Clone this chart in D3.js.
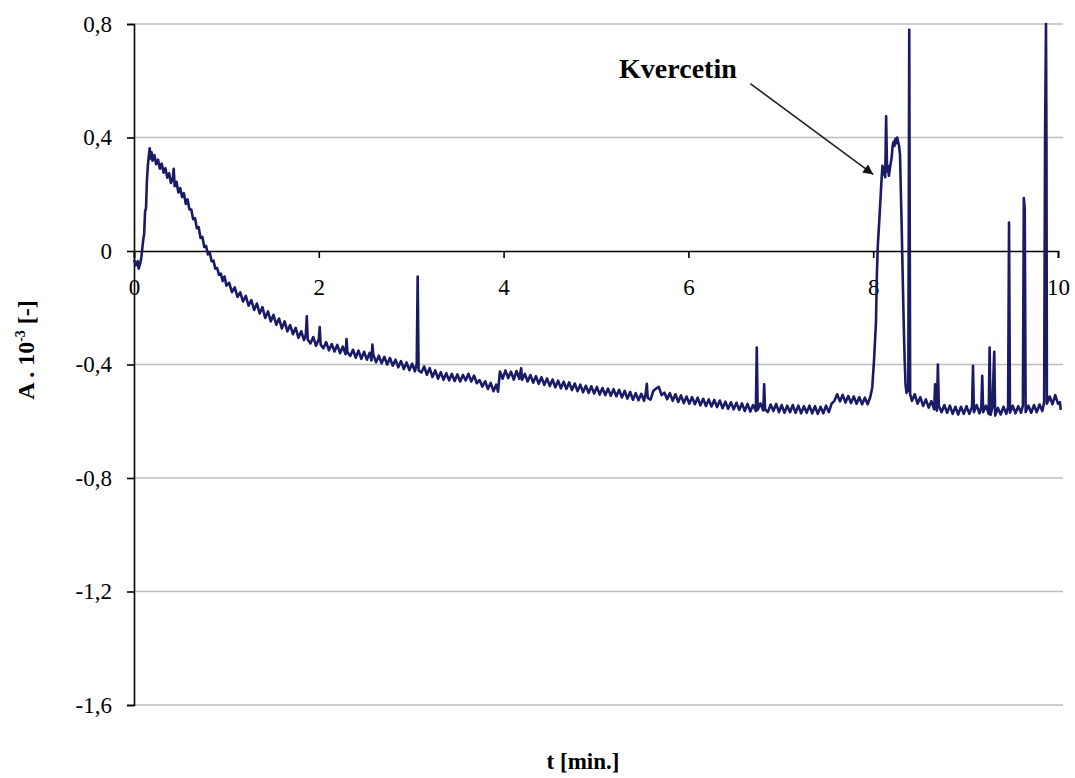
<!DOCTYPE html>
<html>
<head>
<meta charset="utf-8">
<script src="https://cdn.jsdelivr.net/npm/d3@7"></script>
<style>
    html, body { margin: 0; padding: 0; background: #ffffff; }
    svg { display: block; }
    text { font-family: "Liberation Serif", "Times New Roman", serif; fill: #000; }
</style>
</head>
<body>
<svg id="chart" width="1075" height="778"></svg>
<script>
// tick values and labels
var xTicks = [0, 2, 4, 6, 8, 10];
var xTickLabels = ["0", "2", "4", "6", "8", "10"];
var yTicks = [0.8, 0.4, 0, -0.4, -0.8, -1.2, -1.6];
var yTickLabels = ["0,8", "0,4", "0", "-0,4", "-0,8", "-1,2", "-1,6"];

// chromatogram: time [min], absorbance A.10^-3
var time = [
    0.00,0.02,0.04,0.05,0.07,0.08,0.09,0.10,0.11,0.12,0.13,0.14,0.15,0.16,0.17,0.18,0.19,0.20,0.22,0.24,
    0.26,0.28,0.30,0.32,0.34,0.36,0.38,0.40,0.42,0.43,0.44,0.46,0.48,0.50,0.52,0.54,0.56,0.58,0.60,0.62,
    0.64,0.66,0.68,0.70,0.72,0.74,0.76,0.78,0.80,0.82,0.84,0.86,0.88,0.90,0.92,0.94,0.96,0.98,1.00,1.03,
    1.06,1.09,1.12,1.15,1.18,1.21,1.24,1.27,1.30,1.33,1.36,1.39,1.42,1.45,1.48,1.51,1.54,1.57,1.60,1.63,
    1.66,1.69,1.72,1.75,1.78,1.81,1.84,1.86,1.87,1.88,1.91,1.94,1.97,2.00,2.01,2.02,2.05,2.08,2.11,2.14,
    2.17,2.20,2.23,2.26,2.29,2.30,2.31,2.34,2.37,2.40,2.43,2.46,2.49,2.52,2.55,2.57,2.58,2.59,2.62,2.65,
    2.68,2.71,2.74,2.77,2.80,2.83,2.86,2.89,2.92,2.95,2.98,3.01,3.04,3.06,3.07,3.08,3.11,3.14,3.17,3.20,
    3.23,3.26,3.29,3.32,3.35,3.38,3.41,3.44,3.47,3.50,3.53,3.56,3.59,3.62,3.65,3.68,3.71,3.74,3.77,3.80,
    3.83,3.86,3.89,3.92,3.94,3.96,3.99,4.02,4.05,4.08,4.11,4.14,4.17,4.19,4.20,4.23,4.26,4.29,4.32,4.35,
    4.38,4.41,4.44,4.47,4.50,4.53,4.56,4.59,4.62,4.65,4.68,4.71,4.74,4.77,4.80,4.83,4.86,4.89,4.92,4.95,
    4.98,5.01,5.04,5.07,5.10,5.13,5.16,5.19,5.22,5.25,5.28,5.31,5.34,5.37,5.40,5.43,5.46,5.49,5.52,5.54,
    5.55,5.56,5.59,5.62,5.65,5.68,5.71,5.74,5.77,5.80,5.83,5.86,5.89,5.92,5.95,5.98,6.01,6.04,6.07,6.10,
    6.13,6.16,6.19,6.22,6.25,6.28,6.31,6.34,6.37,6.40,6.43,6.46,6.49,6.52,6.55,6.58,6.61,6.64,6.67,6.70,
    6.73,6.74,6.75,6.78,6.81,6.82,6.83,6.86,6.89,6.92,6.95,6.98,7.01,7.04,7.07,7.10,7.13,7.16,7.19,7.22,
    7.25,7.28,7.31,7.34,7.37,7.40,7.43,7.46,7.49,7.52,7.55,7.58,7.61,7.64,7.67,7.70,7.73,7.76,7.79,7.82,
    7.85,7.88,7.91,7.94,7.97,7.99,8.01,8.03,8.04,8.05,8.07,8.09,8.10,8.11,8.12,8.13,8.14,8.15,8.16,8.17,
    8.18,8.20,8.21,8.22,8.23,8.24,8.25,8.26,8.28,8.29,8.30,8.31,8.32,8.33,8.34,8.35,8.36,8.38,8.39,8.40,
    8.42,8.45,8.48,8.51,8.54,8.57,8.60,8.63,8.66,8.67,8.68,8.69,8.70,8.71,8.74,8.77,8.80,8.83,8.86,8.89,
    8.92,8.95,8.98,9.01,9.04,9.07,9.08,9.09,9.12,9.15,9.17,9.18,9.19,9.22,9.25,9.26,9.27,9.29,9.31,9.32,
    9.35,9.38,9.41,9.44,9.46,9.47,9.48,9.51,9.54,9.57,9.60,9.62,9.63,9.64,9.65,9.68,9.71,9.74,9.77,9.80,
    9.83,9.85,9.86,9.87,9.875,9.88,9.91,9.94,9.97,10.00,10.02,10.03
];
var absorbance = [
    -0.030,-0.050,-0.036,-0.062,-0.040,-0.020,0.010,0.040,0.060,0.140,0.150,0.250,0.300,0.335,0.362,0.326,0.348,0.318,0.338,0.306,
    0.322,0.290,0.308,0.276,0.292,0.258,0.274,0.240,0.256,0.290,0.228,0.244,0.206,0.222,0.190,0.204,0.166,0.182,0.146,0.146,
    0.112,0.116,0.080,0.084,0.046,0.050,0.014,0.018,-0.012,-0.006,-0.036,-0.034,-0.062,-0.060,-0.084,-0.080,-0.106,-0.090,-0.122,-0.112,
    -0.145,-0.128,-0.162,-0.146,-0.178,-0.158,-0.193,-0.173,-0.208,-0.185,-0.220,-0.198,-0.236,-0.213,-0.248,-0.225,-0.260,-0.238,-0.273,-0.248,
    -0.283,-0.261,-0.293,-0.271,-0.306,-0.283,-0.314,-0.294,-0.230,-0.312,-0.326,-0.303,-0.334,-0.311,-0.268,-0.330,-0.343,-0.321,-0.350,-0.328,
    -0.354,-0.331,-0.360,-0.337,-0.364,-0.310,-0.357,-0.370,-0.348,-0.376,-0.351,-0.380,-0.355,-0.383,-0.359,-0.386,-0.330,-0.365,-0.392,-0.369,
    -0.396,-0.373,-0.400,-0.377,-0.404,-0.383,-0.410,-0.388,-0.416,-0.393,-0.420,-0.397,-0.424,-0.398,-0.090,-0.420,-0.428,-0.407,-0.436,-0.413,
    -0.444,-0.421,-0.450,-0.427,-0.454,-0.431,-0.456,-0.433,-0.458,-0.435,-0.460,-0.437,-0.456,-0.433,-0.460,-0.439,-0.466,-0.455,-0.478,-0.459,
    -0.486,-0.465,-0.494,-0.471,-0.496,-0.425,-0.450,-0.421,-0.448,-0.425,-0.453,-0.423,-0.450,-0.413,-0.454,-0.433,-0.460,-0.437,-0.464,-0.441,
    -0.468,-0.445,-0.472,-0.449,-0.476,-0.453,-0.480,-0.457,-0.484,-0.461,-0.486,-0.463,-0.490,-0.467,-0.494,-0.471,-0.498,-0.475,-0.500,-0.477,
    -0.502,-0.479,-0.506,-0.483,-0.508,-0.485,-0.510,-0.487,-0.512,-0.489,-0.516,-0.493,-0.520,-0.497,-0.524,-0.501,-0.526,-0.503,-0.528,-0.498,
    -0.468,-0.518,-0.524,-0.493,-0.485,-0.479,-0.508,-0.499,-0.522,-0.501,-0.528,-0.505,-0.532,-0.509,-0.536,-0.513,-0.538,-0.515,-0.540,-0.517,
    -0.544,-0.521,-0.546,-0.523,-0.548,-0.525,-0.550,-0.527,-0.554,-0.531,-0.556,-0.533,-0.558,-0.535,-0.560,-0.537,-0.564,-0.539,-0.566,-0.543,
    -0.564,-0.340,-0.560,-0.537,-0.562,-0.470,-0.558,-0.568,-0.541,-0.564,-0.539,-0.568,-0.543,-0.570,-0.545,-0.568,-0.543,-0.570,-0.545,-0.572,
    -0.547,-0.570,-0.545,-0.572,-0.547,-0.574,-0.549,-0.572,-0.545,-0.568,-0.538,-0.528,-0.505,-0.530,-0.507,-0.534,-0.511,-0.536,-0.513,-0.538,
    -0.515,-0.540,-0.517,-0.540,-0.513,-0.480,-0.380,-0.250,-0.080,0.020,0.130,0.250,0.300,0.270,0.295,0.260,0.475,0.280,0.300,0.265,
    0.290,0.330,0.370,0.385,0.370,0.395,0.380,0.400,0.370,0.340,0.200,0.060,-0.100,-0.250,-0.380,-0.470,-0.500,-0.490,0.780,-0.505,
    -0.528,-0.505,-0.538,-0.515,-0.546,-0.523,-0.552,-0.529,-0.558,-0.470,-0.541,-0.563,-0.400,-0.545,-0.568,-0.543,-0.570,-0.545,-0.574,-0.549,
    -0.576,-0.549,-0.574,-0.547,-0.574,-0.549,-0.405,-0.568,-0.543,-0.572,-0.549,-0.440,-0.568,-0.545,-0.574,-0.340,-0.578,-0.551,-0.355,-0.580,
    -0.553,-0.576,-0.549,-0.574,-0.549,0.100,-0.570,-0.545,-0.572,-0.547,-0.570,-0.545,0.187,0.150,-0.568,-0.545,-0.570,-0.543,-0.568,-0.541,
    -0.564,-0.533,0.400,0.800,0.400,-0.538,-0.513,-0.540,-0.508,-0.538,-0.533,-0.560
];

// arrow pointing at the quercetin peak (data units)
var labelText = ["Kvercetin"];
var labelPos = [5.25, 0.61];
var arrowFrom = [6.67, 0.59];
var arrowTo = [8.0, 0.27];

var svg = d3.select("#chart");
var plotLeft = 134, plotRight = 1058, plotTop = 24, plotBottom = 705;

var x = d3.scaleLinear().domain([0, 10]).range([plotLeft, plotRight]);
var y = d3.scaleLinear().domain([-1.6, 0.8]).range([plotBottom, plotTop]);

// horizontal gridlines
svg.append("g")
    .selectAll("line")
    .data(yTicks.filter(function(d) { return d !== 0; }))
    .enter()
    .append("line")
    .attr("x1", plotLeft)
    .attr("x2", plotRight + 5)
    .attr("y1", function(d) { return y(d); })
    .attr("y2", function(d) { return y(d); })
    .attr("stroke", "#bcbcbc")
    .attr("stroke-width", 1.5);

// y axis
var yAxis = svg.append("g")
    .attr("transform", "translate(" + plotLeft + ",0)")
    .call(d3.axisLeft(y)
        .tickValues(yTicks)
        .tickFormat(function(d, i) { return yTickLabels[i]; })
        .tickSizeOuter(0)
        .tickSize(7)
        .tickPadding(15));

// x axis sits on A = 0
var xAxis = svg.append("g")
    .attr("transform", "translate(0," + y(0) + ")")
    .call(d3.axisBottom(x)
        .tickValues(xTicks)
        .tickFormat(function(d, i) { return xTickLabels[i]; })
        .tickSizeOuter(0)
        .tickSize(7)
        .tickPadding(21));

[yAxis, xAxis].forEach(function(g) {
    g.select(".domain").attr("stroke", "#000").attr("stroke-width", 1.6);
    g.selectAll(".tick line").attr("stroke", "#000").attr("stroke-width", 1.6);
    g.selectAll(".tick text")
        .style("font-family", "'Liberation Serif', serif")
        .style("font-size", "23px")
        .attr("fill", "#2a2a2a");
});

// the trace
var points = time.map(function(t, i) { return [t, absorbance[i]]; });
var line = d3.line()
    .x(function(d) { return x(d[0]); })
    .y(function(d) { return y(d[1]); });

svg.append("path")
    .datum(points)
    .attr("d", line)
    .attr("fill", "none")
    .attr("stroke", "#1a1a66")
    .attr("stroke-width", 2.6)
    .attr("stroke-linejoin", "round");

// annotation
svg.append("defs").append("marker")
    .attr("id", "head")
    .attr("viewBox", "0 0 10 10")
    .attr("refX", 10)
    .attr("refY", 5)
    .attr("markerWidth", 12)
    .attr("markerHeight", 10)
    .attr("markerUnits", "userSpaceOnUse")
    .attr("orient", "auto")
    .append("path")
    .attr("d", "M0,0 L10,5 L0,10 z")
    .attr("fill", "#111");

svg.append("line")
    .attr("x1", x(arrowFrom[0]))
    .attr("y1", y(arrowFrom[1]))
    .attr("x2", x(arrowTo[0]))
    .attr("y2", y(arrowTo[1]))
    .attr("stroke", "#222")
    .attr("stroke-width", 1.6)
    .attr("marker-end", "url(#head)");

svg.append("text")
    .attr("x", x(labelPos[0]))
    .attr("y", y(labelPos[1]))
    .style("font-size", "28px")
    .style("font-weight", "bold")
    .text(labelText[0]);

// axis titles
svg.append("text")
    .attr("x", 583)
    .attr("y", 769)
    .attr("text-anchor", "middle")
    .style("font-size", "23px")
    .style("font-weight", "bold")
    .text("t [min.]");

var yTitle = svg.append("text")
    .attr("transform", "translate(34,350) rotate(-90)")
    .attr("text-anchor", "middle")
    .style("font-size", "24px")
    .style("font-weight", "bold");
yTitle.append("tspan").text("A . 10");
yTitle.append("tspan").attr("dy", -9).style("font-size", "14px").text("-3");
yTitle.append("tspan").attr("dy", 9).text(" [-]");
</script>
</body>
</html>
